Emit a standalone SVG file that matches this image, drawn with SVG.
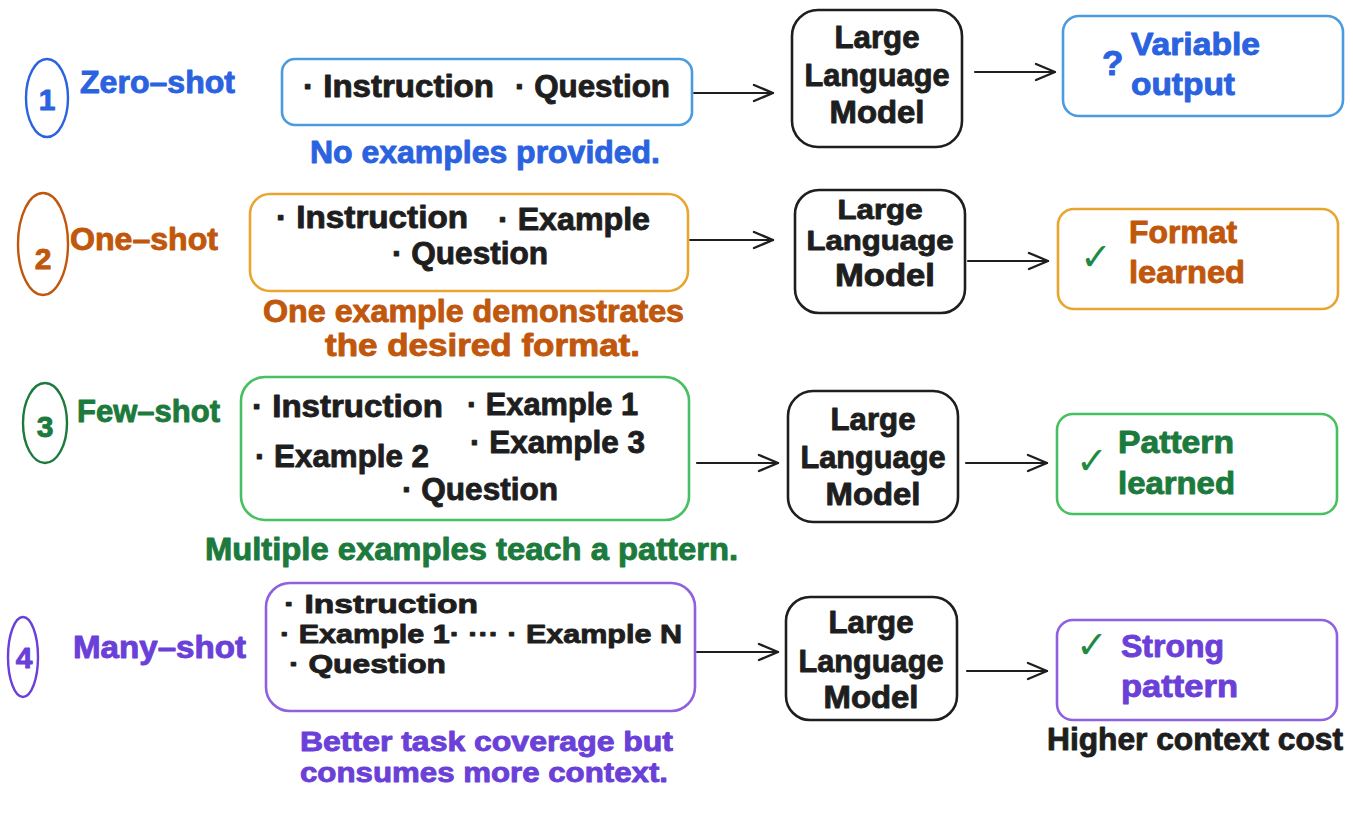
<svg xmlns="http://www.w3.org/2000/svg" width="1353" height="833" viewBox="0 0 1353 833">
<defs>
<marker id="ah" markerUnits="userSpaceOnUse" markerWidth="24" markerHeight="22" refX="21" refY="11" orient="auto">
<path d="M2,3 L21,11 L2,19" fill="none" stroke="#1e1e1e" stroke-width="2.4" stroke-linecap="round" stroke-linejoin="round"/>
</marker>
</defs>
<style>
text{font-family:"Liberation Sans",Arial,sans-serif;font-weight:bold;stroke-width:0.9;stroke-linejoin:round;}
.t{font-size:31px;fill:#1e1e1e;stroke:#1e1e1e;}
.llm{font-size:31px;fill:#1e1e1e;stroke:#1e1e1e;text-anchor:middle;}
.box{fill:#fff;stroke-width:2.6;}
.llmbox{fill:#fff;stroke:#1e1e1e;stroke-width:2.6;}
.conn{fill:none;stroke:#1e1e1e;stroke-width:2.2;stroke-linecap:round;}
.ck{font-family:"DejaVu Sans",sans-serif;font-weight:normal;font-size:38px;fill:#1f8a45;stroke:none;}
.blue{fill:#2a62e0;stroke:#2a62e0;} .brown{fill:#c0570c;stroke:#c0570c;} .green{fill:#1b7a3c;stroke:#1b7a3c;} .purple{fill:#6a40d8;stroke:#6a40d8;}
.sblue{stroke:#4a9be0;} .sorange{stroke:#e8a530;} .sgreen{stroke:#46c060;} .spurple{stroke:#9060e0;}
.lbl{font-size:31px;}
.num{font-size:30px;text-anchor:middle;}
</style>
<rect width="1353" height="833" fill="#fff"/>

<g id="connectors">
<line class="conn" x1="694" y1="93" x2="773" y2="93" marker-end="url(#ah)"/>
<line class="conn" x1="975" y1="72" x2="1055" y2="72" marker-end="url(#ah)"/>
<line class="conn" x1="690" y1="240" x2="773" y2="240" marker-end="url(#ah)"/>
<line class="conn" x1="968" y1="261" x2="1048" y2="261" marker-end="url(#ah)"/>
<line class="conn" x1="697" y1="463" x2="778" y2="463" marker-end="url(#ah)"/>
<line class="conn" x1="966" y1="463" x2="1047" y2="463" marker-end="url(#ah)"/>
<line class="conn" x1="697" y1="652" x2="778" y2="652" marker-end="url(#ah)"/>
<line class="conn" x1="967" y1="671" x2="1047" y2="671" marker-end="url(#ah)"/>
</g>

<!-- Row 1 -->
<g id="label-zero">
<ellipse cx="47" cy="98" rx="21" ry="39" fill="none" stroke="#2a62e0" stroke-width="2.4"/>
<text class="num blue" x="47" y="110">1</text>
<text class="lbl blue" x="80" y="93" textLength="155" lengthAdjust="spacingAndGlyphs">Zero–shot</text>
</g>
<g id="prompt-zero">
<rect class="box sblue" x="282" y="59" width="410" height="66" rx="13"/>
<text class="t" x="303" y="97" textLength="191" lengthAdjust="spacingAndGlyphs">· Instruction</text>
<text class="t" x="515" y="97" textLength="155" lengthAdjust="spacingAndGlyphs">· Question</text>
<text class="lbl blue" x="310" y="163" textLength="350" lengthAdjust="spacingAndGlyphs">No examples provided.</text>
</g>
<g id="llm-zero">
<rect class="llmbox" x="792" y="10" width="170" height="137" rx="26"/>
<text class="llm" x="877" y="48" textLength="85" lengthAdjust="spacingAndGlyphs">Large</text>
<text class="llm" x="877" y="86" textLength="145" lengthAdjust="spacingAndGlyphs">Language</text>
<text class="llm" x="877" y="123" textLength="95" lengthAdjust="spacingAndGlyphs">Model</text>
</g>
<g id="out-zero">
<rect class="box sblue" x="1063" y="16" width="280" height="100" rx="16"/>
<text class="blue" x="1102" y="75" style="font-size:35px">?</text>
<text class="lbl blue" x="1131" y="55" textLength="129" lengthAdjust="spacingAndGlyphs">Variable</text>
<text class="lbl blue" x="1131" y="95" textLength="104" lengthAdjust="spacingAndGlyphs">output</text>
</g>

<!-- Row 2 -->
<g id="label-one">
<ellipse cx="43" cy="244" rx="25" ry="51" fill="none" stroke="#c0570c" stroke-width="2.4"/>
<text class="num brown" x="43" y="269">2</text>
<text class="lbl brown" x="70" y="250" textLength="148" lengthAdjust="spacingAndGlyphs">One–shot</text>
</g>
<g id="prompt-one">
<rect class="box sorange" x="250" y="194" width="438" height="97" rx="20"/>
<text class="t" x="276" y="228" textLength="192" lengthAdjust="spacingAndGlyphs">· Instruction</text>
<text class="t" x="498" y="230" textLength="152" lengthAdjust="spacingAndGlyphs">· Example</text>
<text class="t" x="392" y="264" textLength="156" lengthAdjust="spacingAndGlyphs">· Question</text>
<text class="lbl brown" x="263" y="322" textLength="421" lengthAdjust="spacingAndGlyphs">One example demonstrates</text>
<text class="lbl brown" x="325" y="356" textLength="315" lengthAdjust="spacingAndGlyphs">the desired format.</text>
</g>
<g id="llm-one">
<rect class="llmbox" x="795" y="190" width="170" height="123" rx="24"/>
<text class="llm" x="880" y="219" style="font-size:27px" textLength="85" lengthAdjust="spacingAndGlyphs">Large</text>
<text class="llm" x="880" y="250" style="font-size:27px" textLength="147" lengthAdjust="spacingAndGlyphs">Language</text>
<text class="llm" x="885" y="286" textLength="100" lengthAdjust="spacingAndGlyphs">Model</text>
</g>
<g id="out-one">
<rect class="box sorange" x="1058" y="209" width="280" height="100" rx="16"/>
<text class="ck" x="1080" y="270">✓</text>
<text class="lbl brown" x="1129" y="243" textLength="108" lengthAdjust="spacingAndGlyphs">Format</text>
<text class="lbl brown" x="1129" y="283" textLength="116" lengthAdjust="spacingAndGlyphs">learned</text>
</g>

<!-- Row 3 -->
<g id="label-few">
<ellipse cx="45" cy="423" rx="22" ry="40" fill="none" stroke="#1b7a3c" stroke-width="2.4"/>
<text class="num green" x="45" y="437">3</text>
<text class="lbl green" x="77" y="422" textLength="143" lengthAdjust="spacingAndGlyphs">Few–shot</text>
</g>
<g id="prompt-few">
<rect class="box sgreen" x="241" y="377" width="448" height="143" rx="24"/>
<text class="t" x="252" y="417" textLength="191" lengthAdjust="spacingAndGlyphs">· Instruction</text>
<text class="t" x="467" y="415" textLength="171" lengthAdjust="spacingAndGlyphs">· Example 1</text>
<text class="t" x="255" y="467" textLength="174" lengthAdjust="spacingAndGlyphs">· Example 2</text>
<text class="t" x="470" y="453" textLength="175" lengthAdjust="spacingAndGlyphs">· Example 3</text>
<text class="t" x="402" y="500" textLength="156" lengthAdjust="spacingAndGlyphs">· Question</text>
<text class="lbl green" x="205" y="560" textLength="533" lengthAdjust="spacingAndGlyphs">Multiple examples teach a pattern.</text>
</g>
<g id="llm-few">
<rect class="llmbox" x="788" y="391" width="170" height="131" rx="25"/>
<text class="llm" x="873" y="430" textLength="85" lengthAdjust="spacingAndGlyphs">Large</text>
<text class="llm" x="873" y="468" textLength="145" lengthAdjust="spacingAndGlyphs">Language</text>
<text class="llm" x="873" y="505" textLength="95" lengthAdjust="spacingAndGlyphs">Model</text>
</g>
<g id="out-few">
<rect class="box sgreen" x="1057" y="414" width="280" height="100" rx="16"/>
<text class="ck" x="1076" y="474">✓</text>
<text class="lbl green" x="1118" y="453" textLength="116" lengthAdjust="spacingAndGlyphs">Pattern</text>
<text class="lbl green" x="1118" y="494" textLength="117" lengthAdjust="spacingAndGlyphs">learned</text>
</g>

<!-- Row 4 -->
<g id="label-many">
<ellipse cx="23" cy="657" rx="15" ry="40" fill="none" stroke="#6a40d8" stroke-width="2.4"/>
<text class="num purple" x="24" y="668">4</text>
<text class="lbl purple" x="73" y="658" textLength="173" lengthAdjust="spacingAndGlyphs">Many–shot</text>
</g>
<g id="prompt-many">
<rect class="box spurple" x="266" y="583" width="429" height="128" rx="24"/>
<text class="t" x="284" y="613" style="font-size:26px" textLength="194" lengthAdjust="spacingAndGlyphs">· Instruction</text>
<text class="t" x="280" y="643" style="font-size:26px" textLength="402" lengthAdjust="spacingAndGlyphs">· Example 1· ··· · Example N</text>
<text class="t" x="289" y="673" style="font-size:26px" textLength="157" lengthAdjust="spacingAndGlyphs">· Question</text>
<text class="lbl purple" x="300" y="751" style="font-size:28px" textLength="373" lengthAdjust="spacingAndGlyphs">Better task coverage but</text>
<text class="lbl purple" x="300" y="782" style="font-size:28px" textLength="368" lengthAdjust="spacingAndGlyphs">consumes more context.</text>
</g>
<g id="llm-many">
<rect class="llmbox" x="786" y="597" width="171" height="123" rx="24"/>
<text class="llm" x="871" y="633" textLength="85" lengthAdjust="spacingAndGlyphs">Large</text>
<text class="llm" x="871" y="672" textLength="145" lengthAdjust="spacingAndGlyphs">Language</text>
<text class="llm" x="871" y="708" textLength="95" lengthAdjust="spacingAndGlyphs">Model</text>
</g>
<g id="out-many">
<rect class="box spurple" x="1057" y="620" width="280" height="100" rx="16"/>
<text class="ck" x="1076" y="658">✓</text>
<text class="lbl purple" x="1121" y="657" textLength="103" lengthAdjust="spacingAndGlyphs">Strong</text>
<text class="lbl purple" x="1121" y="697" textLength="117" lengthAdjust="spacingAndGlyphs">pattern</text>
<text class="t" x="1047" y="750" textLength="296" lengthAdjust="spacingAndGlyphs">Higher context cost</text>
</g>
</svg>
